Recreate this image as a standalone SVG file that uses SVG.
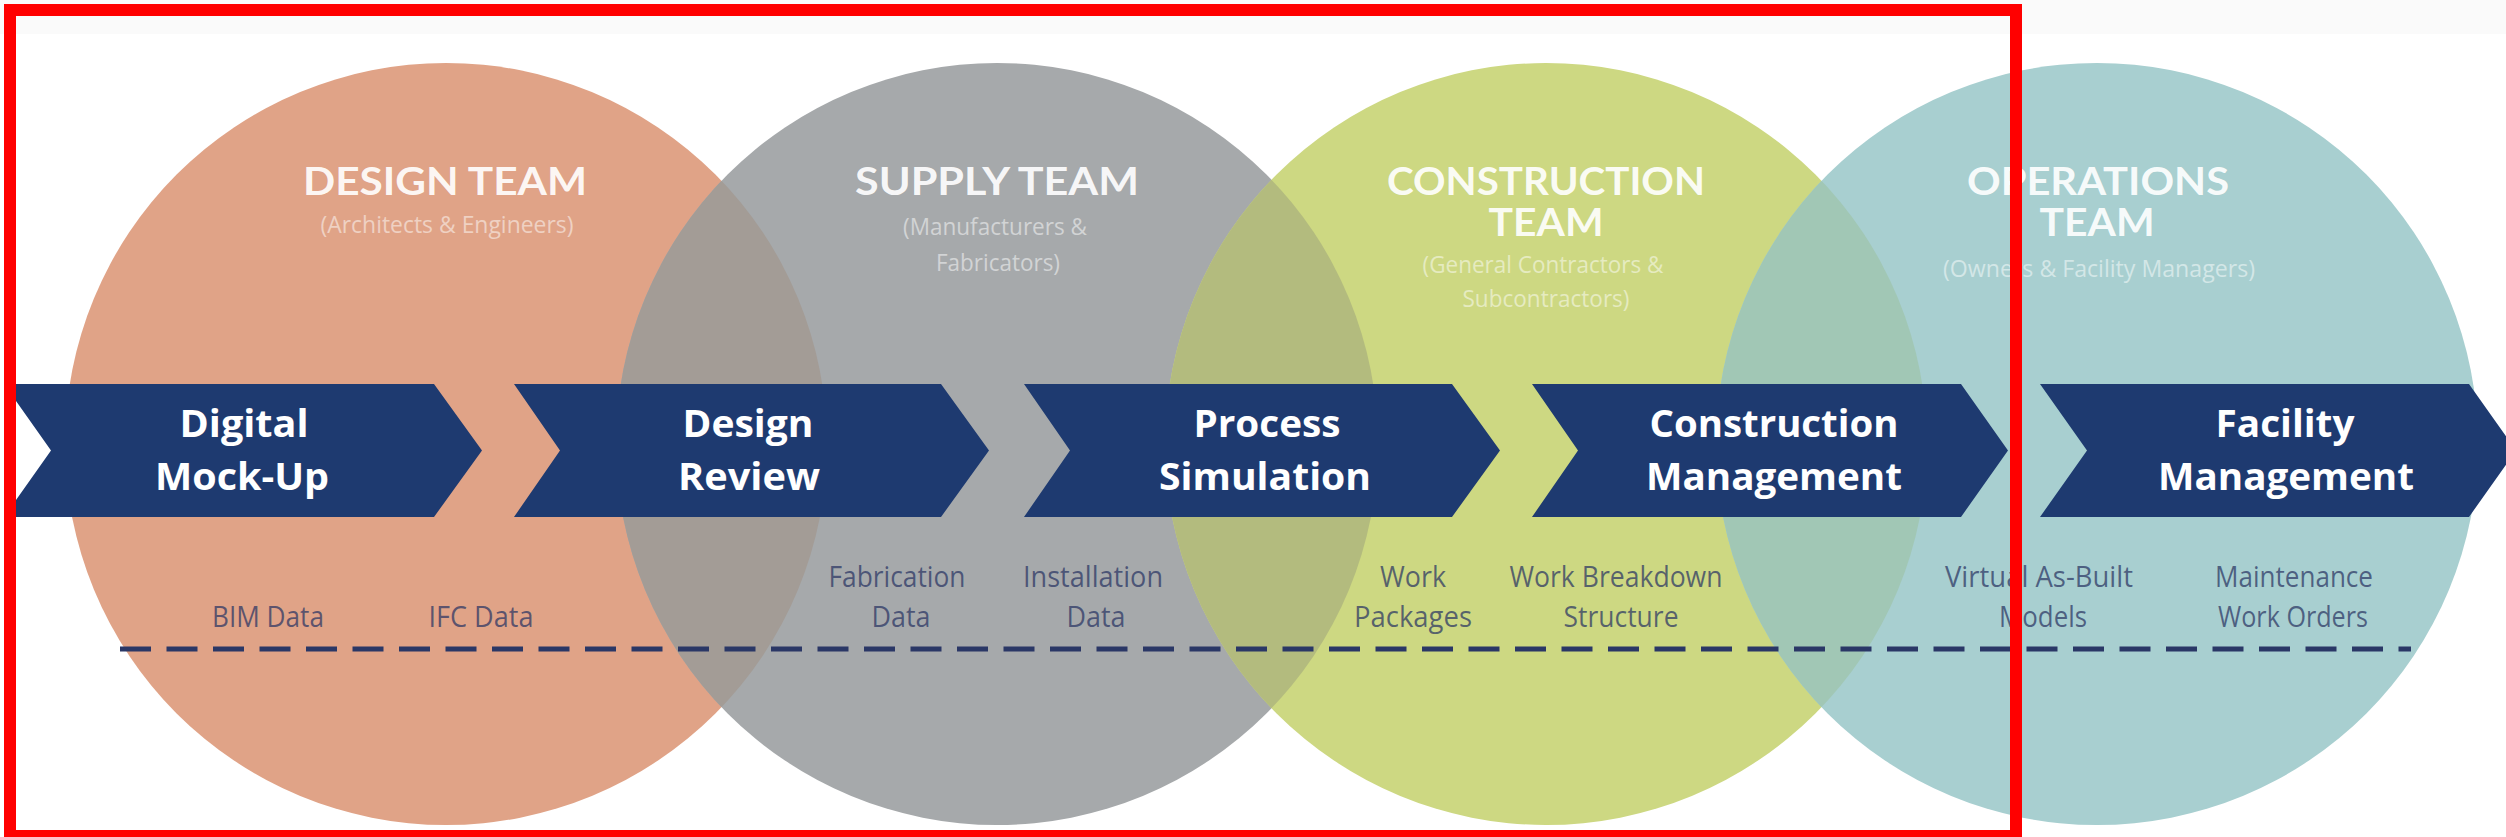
<svg xmlns="http://www.w3.org/2000/svg" width="2506" height="837" viewBox="0 0 2506 837">
  <style>
    .title { font-family: Lato, "Open Sans", sans-serif; font-weight: 700; font-size: 38px; fill: #ffffff; fill-opacity: 0.93; text-anchor: middle; }
    .sub { font-family: "Open Sans", "Liberation Sans", sans-serif; font-weight: 400; font-size: 24px; fill: #ffffff; fill-opacity: 0.5; text-anchor: middle; }
    .chev { fill: #1e3a70; }
    .cl { font-family: "Open Sans", Lato, sans-serif; font-weight: 700; font-size: 37px; fill: #ffffff; text-anchor: middle; }
    .dl { font-family: "Open Sans", "Liberation Sans", sans-serif; font-weight: 400; font-size: 30px; fill: #2a3563; fill-opacity: 0.72; text-anchor: middle; }
  </style>
  <defs>
    <clipPath id="clipOrange"><circle cx="446" cy="444" r="381"/></clipPath>
    <clipPath id="clipGray"><circle cx="997" cy="444" r="381"/></clipPath>
    <clipPath id="clipGreen"><circle cx="1546" cy="444" r="381"/></clipPath>
  </defs>

  <rect x="0" y="0" width="2506" height="837" fill="#ffffff"/>
  <rect x="0" y="0" width="2506" height="34" fill="#fafafa"/>

  <g id="team-design">
    <circle cx="446" cy="444" r="381" fill="#e0a387"/>
    <text class="title" x="445" y="195" textLength="284" lengthAdjust="spacingAndGlyphs">DESIGN TEAM</text>
    <text class="sub" x="447" y="233" textLength="253" lengthAdjust="spacingAndGlyphs">(Architects &amp; Engineers)</text>
  </g>

  <g id="team-supply">
    <circle cx="997" cy="444" r="381" fill="#a6a9ab"/>
    <circle cx="997" cy="444" r="381" fill="#a39c96" clip-path="url(#clipOrange)"/>
    <text class="title" x="997" y="195" textLength="284" lengthAdjust="spacingAndGlyphs">SUPPLY TEAM</text>
    <text class="sub"><tspan x="995" y="235" textLength="184" lengthAdjust="spacingAndGlyphs">(Manufacturers &amp;</tspan><tspan x="998" y="271" textLength="124" lengthAdjust="spacingAndGlyphs">Fabricators)</tspan></text>
  </g>

  <g id="team-construction">
    <circle cx="1546" cy="444" r="381" fill="#cdd882"/>
    <circle cx="1546" cy="444" r="381" fill="#b3bb7e" clip-path="url(#clipGray)"/>
    <text class="title"><tspan x="1546" y="195" textLength="318" lengthAdjust="spacingAndGlyphs">CONSTRUCTION</tspan><tspan x="1546" y="236" textLength="115" lengthAdjust="spacingAndGlyphs">TEAM</tspan></text>
    <text class="sub"><tspan x="1543" y="273" textLength="241" lengthAdjust="spacingAndGlyphs">(General Contractors &amp;</tspan><tspan x="1546" y="307" textLength="167" lengthAdjust="spacingAndGlyphs">Subcontractors)</tspan></text>
  </g>

  <g id="team-operations">
    <circle cx="2097" cy="444" r="381" fill="#a8cfd0"/>
    <circle cx="2097" cy="444" r="381" fill="#a1c7b5" clip-path="url(#clipGreen)"/>
    <text class="title"><tspan x="2098" y="195" textLength="262" lengthAdjust="spacingAndGlyphs">OPERATIONS</tspan><tspan x="2097" y="236" textLength="115" lengthAdjust="spacingAndGlyphs">TEAM</tspan></text>
    <text class="sub" x="2099" y="277" textLength="312" lengthAdjust="spacingAndGlyphs">(Owners &amp; Facility Managers)</text>
  </g>

  <g id="step-digital-mockup">
    <path class="chev" d="M4,384 H434 L482,450.5 L434,517 H4 L51,450.5 Z"/>
    <text class="cl"><tspan x="244" y="437" textLength="129" lengthAdjust="spacingAndGlyphs">Digital</tspan><tspan x="242" y="490" textLength="174" lengthAdjust="spacingAndGlyphs">Mock-Up</tspan></text>
  </g>

  <g id="step-design-review">
    <path class="chev" d="M514,384 H941 L989,450.5 L941,517 H514 L560,450.5 Z"/>
    <text class="cl"><tspan x="748" y="437" textLength="131" lengthAdjust="spacingAndGlyphs">Design</tspan><tspan x="749" y="490" textLength="142" lengthAdjust="spacingAndGlyphs">Review</tspan></text>
  </g>

  <g id="step-process-simulation">
    <path class="chev" d="M1024,384 H1452 L1500,450.5 L1452,517 H1024 L1070,450.5 Z"/>
    <text class="cl"><tspan x="1267" y="437" textLength="147" lengthAdjust="spacingAndGlyphs">Process</tspan><tspan x="1265" y="490" textLength="212" lengthAdjust="spacingAndGlyphs">Simulation</tspan></text>
  </g>

  <g id="step-construction-management">
    <path class="chev" d="M1532,384 H1961 L2008,450.5 L1961,517 H1532 L1578,450.5 Z"/>
    <text class="cl"><tspan x="1774" y="437" textLength="249" lengthAdjust="spacingAndGlyphs">Construction</tspan><tspan x="1774" y="490" textLength="256" lengthAdjust="spacingAndGlyphs">Management</tspan></text>
  </g>

  <g id="step-facility-management">
    <path class="chev" d="M2040,384 H2469 L2516,450.5 L2469,517 H2040 L2087,450.5 Z"/>
    <text class="cl"><tspan x="2285" y="437" textLength="139" lengthAdjust="spacingAndGlyphs">Facility</tspan><tspan x="2286" y="490" textLength="256" lengthAdjust="spacingAndGlyphs">Management</tspan></text>
  </g>

  <g id="data-labels">
    <text class="dl" x="268" y="627" textLength="112" lengthAdjust="spacingAndGlyphs">BIM Data</text>
    <text class="dl" x="481" y="627" textLength="105" lengthAdjust="spacingAndGlyphs">IFC Data</text>
    <text class="dl"><tspan x="897" y="587" textLength="137" lengthAdjust="spacingAndGlyphs">Fabrication</tspan><tspan x="901" y="627" textLength="59" lengthAdjust="spacingAndGlyphs">Data</tspan></text>
    <text class="dl"><tspan x="1093" y="587" textLength="140" lengthAdjust="spacingAndGlyphs">Installation</tspan><tspan x="1096" y="627" textLength="59" lengthAdjust="spacingAndGlyphs">Data</tspan></text>
    <text class="dl"><tspan x="1413" y="587" textLength="66" lengthAdjust="spacingAndGlyphs">Work</tspan><tspan x="1413" y="627" textLength="118" lengthAdjust="spacingAndGlyphs">Packages</tspan></text>
    <text class="dl"><tspan x="1616" y="587" textLength="213" lengthAdjust="spacingAndGlyphs">Work Breakdown</tspan><tspan x="1621" y="627" textLength="115" lengthAdjust="spacingAndGlyphs">Structure</tspan></text>
    <text class="dl"><tspan x="2039" y="587" textLength="188" lengthAdjust="spacingAndGlyphs">Virtual As-Built</tspan><tspan x="2043" y="627" textLength="88" lengthAdjust="spacingAndGlyphs">Models</tspan></text>
    <text class="dl"><tspan x="2294" y="587" textLength="158" lengthAdjust="spacingAndGlyphs">Maintenance</tspan><tspan x="2293" y="627" textLength="150" lengthAdjust="spacingAndGlyphs">Work Orders</tspan></text>
  </g>

  <g id="connectors">
    <line x1="120" y1="649" x2="2411" y2="649" stroke="#2a3766" stroke-width="5" stroke-dasharray="31 15.5"/>
  </g>

  <rect id="frame" x="10" y="10" width="2006" height="826" fill="none" stroke="#ff0000" stroke-width="12"/>
</svg>
